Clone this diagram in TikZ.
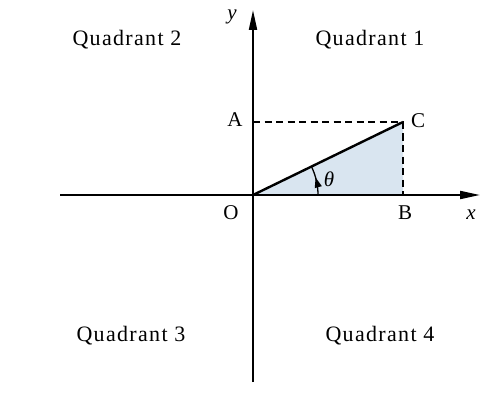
\documentclass[tikz,border=0pt]{standalone}
\usepackage{fontspec}
\setmainfont{Liberation Serif}
\newfontfamily\quadfont[LetterSpace=6]{Liberation Serif}
\usetikzlibrary{arrows.meta,decorations.markings,calc}
\definecolor{triblue}{RGB}{217,229,240}
\tikzset{
  axis/.style={line width=2pt,-{Triangle[length=20pt,width=8pt]}},
  guide/.style={line width=1.4pt,dash pattern=on 7pt off 4.5pt},
  quad/.style={font=\quadfont\fontsize{22}{25}\selectfont,inner sep=0pt},
  lab/.style={font=\fontsize{21}{24}\selectfont,inner sep=0pt},
}
\begin{document}
\begin{tikzpicture}[x=1pt,y=-1pt]
\useasboundingbox (0,0) rectangle (503,409);
\coordinate (O) at (253,195);
\coordinate (B) at (403,195);
\coordinate (C) at (403,122);
\coordinate (A) at (253,122);
\coordinate (xs) at (60,195);
\coordinate (xe) at (480,195);
\coordinate (ys) at (253,382);
\coordinate (ye) at (253,10);
\coordinate (arcs) at (318,195);
\fill[triblue] (O) -- (B) -- (C) -- cycle;
\draw[guide] (A) -- (C);
\draw[guide] (C) -- (B);
\draw[axis] (xs) -- (xe);
\draw[axis] (ys) -- (ye);
\draw[line width=2.4pt] (O) -- (C);
\draw[line width=1.3pt,decoration={markings,mark=at position 0.6 with {\arrow{Triangle[length=10pt,width=7pt]}}},postaction={decorate}]
  (arcs) arc[start angle=0,end angle=-26,radius=65];
\node[quad] (q2) at (127,40) {Quadrant 2};
\node[quad] (q1) at (370,40) {Quadrant 1};
\node[quad] (q3) at (131,336) {Quadrant 3};
\node[quad] (q4) at (380,336) {Quadrant 4};
\node[lab] (la) at (235,120) {A};
\node[lab] (lc) at (418,121) {C};
\node[lab] (lb) at (405,213) {B};
\node[lab] (lo) at (231,213) {O};
\node[lab] (lx) at (471,215) {\itshape x};
\node[lab] (ly) at (232,17) {\itshape y};
\node[lab] (lt) at (329,179) {\itshape θ};
\end{tikzpicture}
\end{document}
